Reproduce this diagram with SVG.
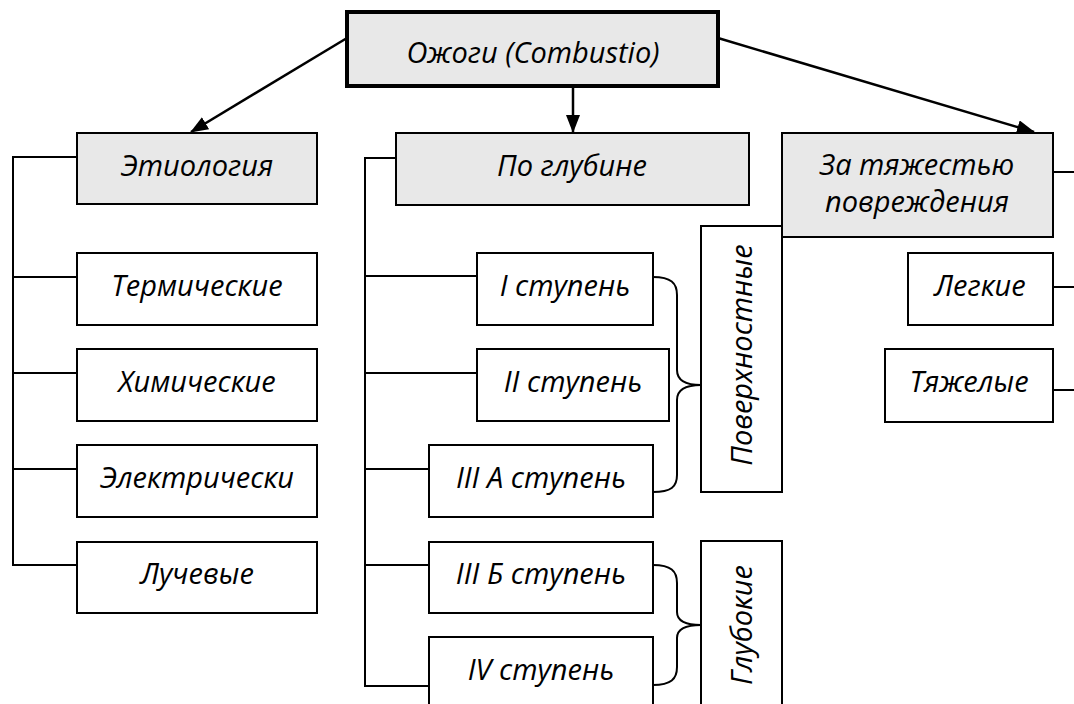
<svg xmlns="http://www.w3.org/2000/svg" width="1074" height="704" viewBox="0 0 1074 704">
<style>
.box{fill:#ffffff;stroke:#000;stroke-width:2}
.gray{fill:#e8e8e8;stroke:#000;stroke-width:2}
.main{fill:#e8e8e8;stroke:#000;stroke-width:4}
.t{font-family:"Open Sans","Noto Sans",sans-serif;font-style:italic;font-size:29px;fill:#000;text-anchor:middle}
.ln{fill:none;stroke:#000;stroke-width:2}
.ar{fill:none;stroke:#000;stroke-width:2.5}
</style>
<defs>
<marker id="ah" markerUnits="userSpaceOnUse" markerWidth="18" markerHeight="14" refX="17" refY="7" orient="auto">
<path d="M0,0 L18,7 L0,14 z" fill="#000"/>
</marker>
</defs>
<g id="connectors">
<line class="ar" x1="347" y1="38" x2="191" y2="132" marker-end="url(#ah)"/>
<line class="ar" x1="573" y1="86" x2="573" y2="132" marker-end="url(#ah)"/>
<line class="ar" x1="718" y1="38" x2="1034" y2="132" marker-end="url(#ah)"/>
<path class="ln" d="M77,157 H13 V565 H77 M13,277 H77 M13,373 H77 M13,469 H77"/>
<path class="ln" d="M396,158 H365 V686 H429 M365,276 H477 M365,373 H477 M365,469 H429 M365,565 H429"/>
<path class="ln" d="M1053,172 H1074 M1053,287 H1074 M1053,390 H1074"/>
<path class="ln" d="M653,277 C671,277 677,283 677,295 L677,370 C677,380 685,385 701,385 C685,385 677,390 677,400 L677,475 C677,487 671,492 653,492"/>
<path class="ln" d="M653,565 C671,565 677,571 677,583 L677,612 C677,620 685,625 701,625 C685,625 677,630 677,638 L677,667 C677,679 671,685 653,685"/>
</g>
<g id="root"><rect class="main" x="347" y="12" width="371" height="74"/><text class="t" x="533" y="63">Ожоги (Combustio)</text></g>
<g id="etiology"><rect class="gray" x="77" y="133" width="240" height="71"/><text class="t" x="197" y="176">Этиология</text></g>
<g id="thermal"><rect class="box" x="77" y="253" width="240" height="72"/><text class="t" x="197" y="296">Термические</text></g>
<g id="chemical"><rect class="box" x="77" y="349" width="240" height="72"/><text class="t" x="197" y="392">Химические</text></g>
<g id="electric"><rect class="box" x="77" y="445" width="240" height="72"/><text class="t" x="197" y="488">Электрически</text></g>
<g id="radiation"><rect class="box" x="77" y="542" width="240" height="71"/><text class="t" x="197" y="584">Лучевые</text></g>
<g id="depth"><rect class="gray" x="396" y="133" width="353" height="72"/><text class="t" x="572" y="176">По глубине</text></g>
<g id="deg1"><rect class="box" x="477" y="253" width="176" height="72"/><text class="t" x="565" y="296">I ступень</text></g>
<g id="deg2"><rect class="box" x="477" y="349" width="192" height="72"/><text class="t" x="573" y="392">II ступень</text></g>
<g id="deg3a"><rect class="box" x="429" y="445" width="224" height="72"/><text class="t" x="541" y="488">III А ступень</text></g>
<g id="deg3b"><rect class="box" x="429" y="542" width="224" height="71"/><text class="t" x="541" y="584">III Б ступень</text></g>
<g id="deg4"><rect class="box" x="429" y="637" width="224" height="90"/><text class="t" x="541" y="680">IV ступень</text></g>
<g id="superficial"><rect class="box" x="701" y="226" width="81" height="266"/><text class="t" transform="translate(752,355) rotate(-90)">Поверхностные</text></g>
<g id="deep"><rect class="box" x="701" y="541" width="81" height="190"/><text class="t" transform="translate(752,625) rotate(-90)">Глубокие</text></g>
<g id="severity"><rect class="gray" x="782" y="133" width="271" height="104"/><text class="t" x="917" y="175">За тяжестью</text><text class="t" x="917" y="212">повреждения</text></g>
<g id="light"><rect class="box" x="908" y="253" width="145" height="72"/><text class="t" x="980" y="296">Легкие</text></g>
<g id="heavy"><rect class="box" x="885" y="349" width="168" height="73"/><text class="t" x="969" y="392">Тяжелые</text></g>
</svg>
